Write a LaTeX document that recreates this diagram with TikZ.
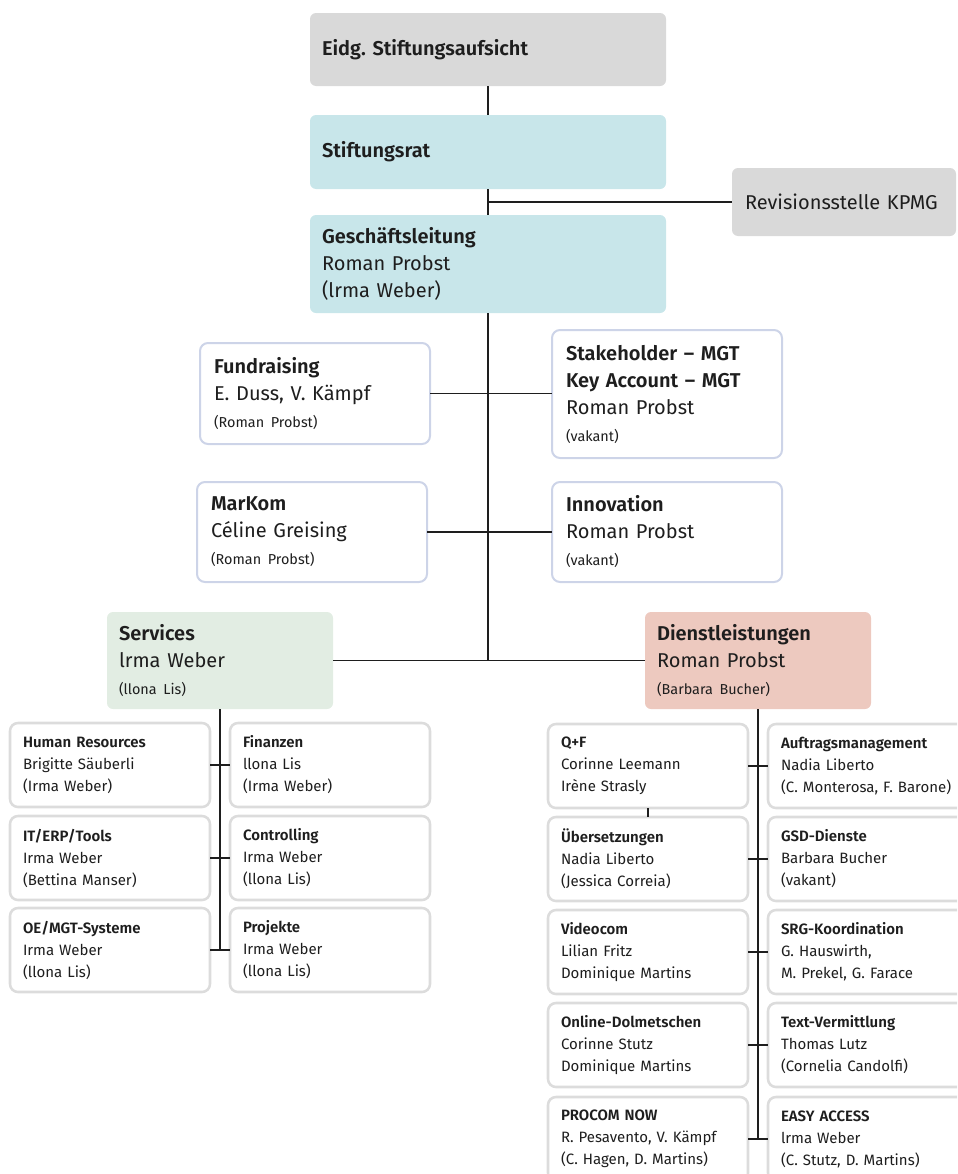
\documentclass[tikz,border=0pt]{standalone}
\usepackage{fontspec}
\setmainfont{Fira Sans}[BoldFont={Fira Sans SemiBold}, WordSpace=0.8]
\usepackage{tikz}
\usetikzlibrary{calc, positioning}
\frenchspacing
\definecolor{boardgray}{HTML}{D9D9D9}
\definecolor{boardcyan}{HTML}{C8E6EA}
\definecolor{servgreen}{HTML}{E2EDE3}
\definecolor{dlrose}{HTML}{EDC9BF}
\definecolor{midframe}{HTML}{CDD4E8}
\definecolor{subframe}{HTML}{DCDCDC}
\definecolor{ink}{HTML}{1E1E1E}
\newcommand{\bigfont}{\fontsize{15}{20.25}\selectfont}
\newcommand{\minor}[1]{{\fontsize{10.8}{12}\selectfont #1}}
\newcommand{\card}[3]{\mbox{\textbf{#1}}\\\mbox{#2}\\\mbox{#3}}
\tikzset{
	x = 0.75pt,
	y = -0.75pt,
	line width = 1.1pt,
	font = \bigfont,
	box/.style={
		rectangle,
		rounded corners=4.5pt,
		anchor=north west,
		align=left,
		text=ink,
		inner ysep=0pt,
		inner xsep=9pt,
		outer sep=0pt
	},
	head/.style={
		box,
		fill=#1,
		text width=249pt
	},
	unit/.style={
		box,
		draw=midframe,
		line width=1.5pt,
		fill=white,
		rounded corners=6pt,
		inner xsep=10.5pt,
		text width=151.5pt
	},
	team/.style={
		box,
		draw=subframe,
		line width=1.9pt,
		fill=white,
		rounded corners=6pt,
		font=\fontsize{11.25}{16.5}\selectfont,
		inner xsep=9.75pt,
		text width=130.5pt,
		minimum height=63pt
	},
	link/.style={
		draw=ink,
		line width=1.1pt
	}
}

\begin{document}
\begin{tikzpicture}
\useasboundingbox (0,0) rectangle (957,1174);
\clip (0,0) rectangle (957,1174);

\node[head=boardgray, minimum height=54.75pt] (aufsicht) at (310,13) {\textbf{Eidg. Stiftungsaufsicht}};
\node[head=boardcyan, minimum height=55.5pt] (rat) at (310,115) {\textbf{Stiftungsrat}};
\node[head=boardcyan, minimum height=73.5pt] (gl) at (310,215) {\textbf{Geschäftsleitung}\\Roman Probst\\(lrma Weber)};
\node[head=boardgray, text width=148.5pt, inner xsep=9.75pt, minimum height=51pt] (kpmg) at (732,168) {\mbox{Revisionsstelle KPMG}};

\node[unit, minimum height=75.75pt] (fund) at (200,343) {\textbf{Fundraising}\\E. Duss, V. Kämpf\\\minor{(Roman Probst)}};
\node[unit, minimum height=96pt] (stake) at (552,330) {\textbf{Stakeholder – MGT}\\\textbf{Key Account – MGT}\\Roman Probst\\\minor{(vakant)}};
\node[unit, minimum height=75pt] (markom) at (197,482) {\textbf{MarKom}\\Céline Greising\\\minor{(Roman Probst)}};
\node[unit, minimum height=75pt] (innov) at (552,482) {\textbf{Innovation}\\Roman Probst\\\minor{(vakant)}};

\node[head=servgreen, text width=151.5pt, minimum height=72.75pt] (serv) at (107,612) {\textbf{Services}\\lrma Weber\\\minor{(llona Lis)}};
\node[head=dlrose, text width=151.5pt, minimum height=72.75pt] (dl) at (645,612) {\textbf{Dienstleistungen}\\Roman Probst\\\minor{(Barbara Bucher)}};

% Services
\node[team] (hr) at (10,723) {\card{Human Resources}{Brigitte Säuberli}{(Irma Weber)}};
\node[team] (fin) at (230,723) {\card{Finanzen}{llona Lis}{(Irma Weber)}};
\node[team] (it) at (10,816) {\card{IT/ERP/Tools}{Irma Weber}{(Bettina Manser)}};
\node[team] (ctrl) at (230,816) {\card{Controlling}{Irma Weber}{(llona Lis)}};
\node[team] (oe) at (10,908) {\card{OE/MGT-Systeme}{Irma Weber}{(llona Lis)}};
\node[team] (proj) at (230,908) {\card{Projekte}{Irma Weber}{(llona Lis)}};

% Dienstleistungen
\node[team] (qf) at (548,724) {\card{Q+F}{Corinne Leemann}{Irène Strasly}};
\node[team] (auftrag) at (768,724) {\card{Auftragsmanagement}{Nadia Liberto}{(C. Monterosa, F. Barone)}};
\node[team] (uebers) at (548,817) {\card{Übersetzungen}{Nadia Liberto}{(Jessica Correia)}};
\node[team] (gsd) at (768,817) {\card{GSD-Dienste}{Barbara Bucher}{(vakant)}};
\node[team] (video) at (548,910) {\card{Videocom}{Lilian Fritz}{Dominique Martins}};
\node[team] (srg) at (768,910) {\card{SRG-Koordination}{G. Hauswirth,}{M. Prekel, G. Farace}};
\node[team] (online) at (548,1003) {\card{Online-Dolmetschen}{Corinne Stutz}{Dominique Martins}};
\node[team] (textverm) at (768,1003) {\card{Text-Vermittlung}{Thomas Lutz}{(Cornelia Candolfi)}};
\node[team] (procom) at (548,1097) {\card{PROCOM NOW}{R. Pesavento, V. Kämpf}{(C. Hagen, D. Martins)}};
\node[team] (easy) at (768,1097) {\card{EASY ACCESS}{lrma Weber}{(C. Stutz, D. Martins)}};

\draw[link] (aufsicht.south) -- (rat.north);
\draw[link] (rat.south) -- (gl.north);
\draw[link] (rat.south |- kpmg.west) -- (kpmg.west);
\draw[link] (gl.south) -- (gl.south |- serv.east);
\draw[link] (serv.east) -- (dl.west);
\draw[link] (fund.east) -- (fund.east -| stake.west);
\draw[link] (markom.east) -- (markom.east -| innov.west);

\draw[link] (serv.south) -- (serv.south |- oe.east);
\draw[link] (hr.east) -- (fin.west);
\draw[link] (it.east) -- (ctrl.west);
\draw[link] (oe.east) -- (proj.west);

\draw[link] (dl.south) -- (dl.south |- procom.east);
\draw[link] (qf.south) -- (uebers.north);
\draw[link] (qf.east) -- (auftrag.west);
\draw[link] (uebers.east) -- (gsd.west);
\draw[link] (video.east) -- (srg.west);
\draw[link] (online.east) -- (textverm.west);
\draw[link] (procom.east) -- (easy.west);
\end{tikzpicture}
\end{document}
